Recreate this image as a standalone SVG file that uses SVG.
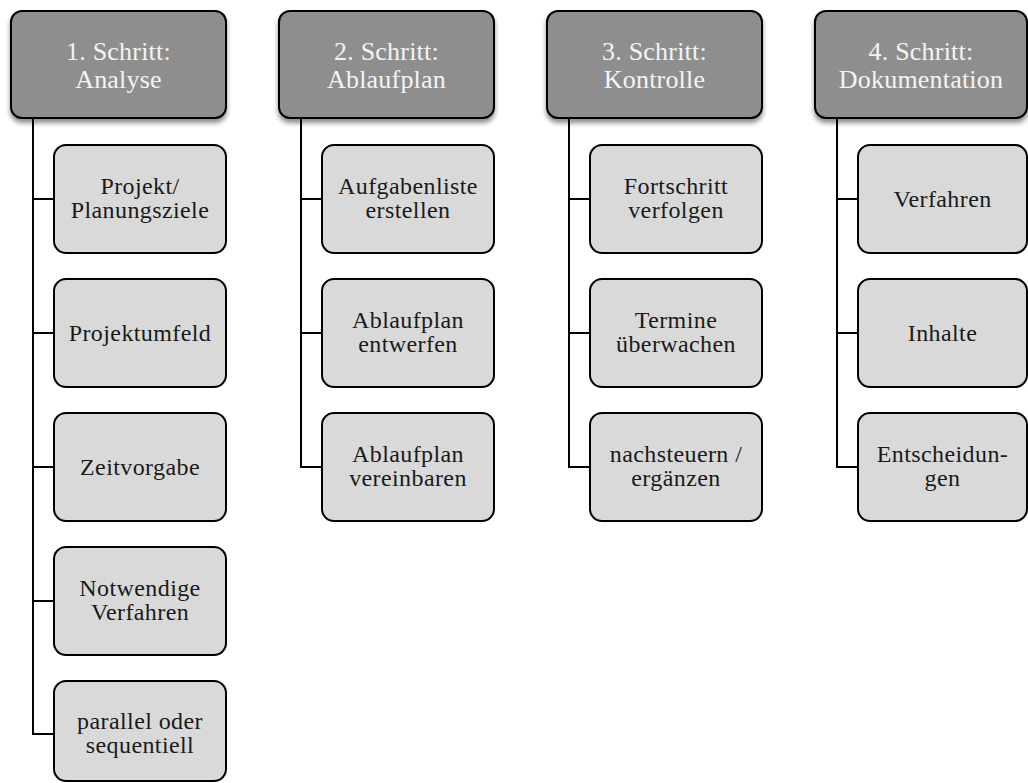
<svg xmlns="http://www.w3.org/2000/svg" width="1028" height="783" viewBox="0 0 1028 783">
<defs>
<filter id="sh" x="-10%" y="-10%" width="120%" height="130%">
<feGaussianBlur in="SourceAlpha" stdDeviation="2.5"/>
<feOffset dx="0" dy="4" result="b"/>
<feComponentTransfer><feFuncA type="linear" slope="0.45"/></feComponentTransfer>
<feMerge><feMergeNode/><feMergeNode in="SourceGraphic"/></feMerge>
</filter>
</defs>
<style>
.hd{fill:#8e8e8e;stroke:#000;stroke-width:2;filter:url(#sh)}
.ch{fill:#d9d9d9;stroke:#000;stroke-width:2}
.ht{font-family:"Liberation Serif",serif;font-size:26px;letter-spacing:0.2px;fill:#f4f4f4;text-anchor:middle}
.ct{font-family:"Liberation Serif",serif;font-size:24px;letter-spacing:0.4px;fill:#1a1a1a;text-anchor:middle}
.cn{fill:none;stroke:#000;stroke-width:2}
</style>
<g id="connectors">
<path class="cn" d="M33 118V734H54M33 199H54M33 333H54M33 467H54M33 601H54"/>
<path class="cn" d="M301 118V467H322M301 199H322M301 333H322"/>
<path class="cn" d="M569 118V467H590M569 199H590M569 333H590"/>
<path class="cn" d="M837 118V467H858M837 199H858M837 333H858"/>
</g>
<g id="h1"><rect class="hd" x="11" y="11" width="215" height="107" rx="11"/><text class="ht" x="118.5" y="60">1. Schritt:</text><text class="ht" x="118.5" y="87.5">Analyse</text></g>
<g id="h2"><rect class="hd" x="279" y="11" width="215" height="107" rx="11"/><text class="ht" x="386.5" y="60">2. Schritt:</text><text class="ht" x="386.5" y="87.5">Ablaufplan</text></g>
<g id="h3"><rect class="hd" x="547" y="11" width="215" height="107" rx="11"/><text class="ht" x="654.5" y="60">3. Schritt:</text><text class="ht" x="654.5" y="87.5">Kontrolle</text></g>
<g id="h4"><rect class="hd" x="815" y="11" width="212" height="107" rx="11"/><text class="ht" x="921" y="60">4. Schritt:</text><text class="ht" x="921" y="87.5">Dokumentation</text></g>

<g id="c1a"><rect class="ch" x="54" y="145" width="172" height="108" rx="12"/><text class="ct" x="140" y="194">Projekt/</text><text class="ct" x="140" y="218">Planungsziele</text></g>
<g id="c1b"><rect class="ch" x="54" y="279" width="172" height="108" rx="12"/><text class="ct" x="140" y="341">Projektumfeld</text></g>
<g id="c1c"><rect class="ch" x="54" y="413" width="172" height="108" rx="12"/><text class="ct" x="140" y="475">Zeitvorgabe</text></g>
<g id="c1d"><rect class="ch" x="54" y="547" width="172" height="108" rx="12"/><text class="ct" x="140" y="596">Notwendige</text><text class="ct" x="140" y="620">Verfahren</text></g>
<g id="c1e"><rect class="ch" x="54" y="681" width="172" height="100" rx="12"/><text class="ct" x="140" y="729">parallel oder</text><text class="ct" x="140" y="753">sequentiell</text></g>

<g id="c2a"><rect class="ch" x="322" y="145" width="172" height="108" rx="12"/><text class="ct" x="408" y="194">Aufgabenliste</text><text class="ct" x="408" y="218">erstellen</text></g>
<g id="c2b"><rect class="ch" x="322" y="279" width="172" height="108" rx="12"/><text class="ct" x="408" y="328">Ablaufplan</text><text class="ct" x="408" y="352">entwerfen</text></g>
<g id="c2c"><rect class="ch" x="322" y="413" width="172" height="108" rx="12"/><text class="ct" x="408" y="462">Ablaufplan</text><text class="ct" x="408" y="486">vereinbaren</text></g>

<g id="c3a"><rect class="ch" x="590" y="145" width="172" height="108" rx="12"/><text class="ct" x="676" y="194">Fortschritt</text><text class="ct" x="676" y="218">verfolgen</text></g>
<g id="c3b"><rect class="ch" x="590" y="279" width="172" height="108" rx="12"/><text class="ct" x="676" y="328">Termine</text><text class="ct" x="676" y="352">überwachen</text></g>
<g id="c3c"><rect class="ch" x="590" y="413" width="172" height="108" rx="12"/><text class="ct" x="676" y="462">nachsteuern /</text><text class="ct" x="676" y="486">ergänzen</text></g>

<g id="c4a"><rect class="ch" x="858" y="145" width="169" height="108" rx="12"/><text class="ct" x="942.5" y="207">Verfahren</text></g>
<g id="c4b"><rect class="ch" x="858" y="279" width="169" height="108" rx="12"/><text class="ct" x="942.5" y="341">Inhalte</text></g>
<g id="c4c"><rect class="ch" x="858" y="413" width="169" height="108" rx="12"/><text class="ct" x="942.5" y="462">Entscheidun-</text><text class="ct" x="942.5" y="486">gen</text></g>
</svg>
